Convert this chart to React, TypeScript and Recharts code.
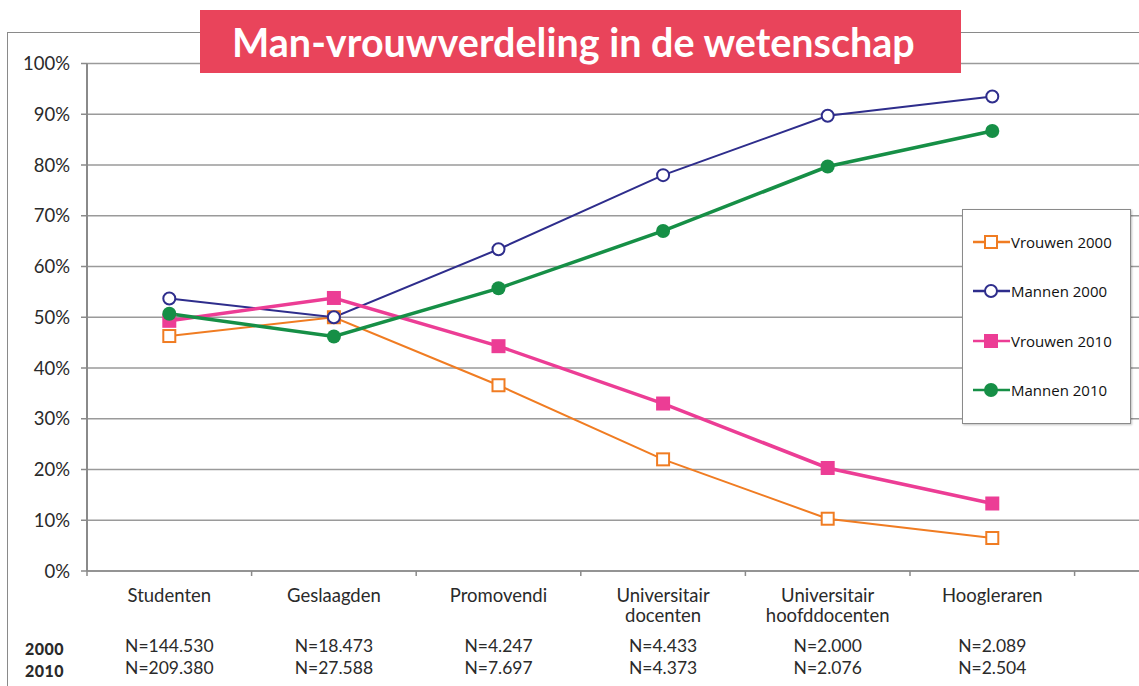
import React from 'react'
import { LineChart, Line, XAxis, YAxis, CartesianGrid } from 'recharts'

// categories (last one is an empty slot so the plot runs on to the right edge)
const categories = [
  'Studenten',
  'Geslaagden',
  'Promovendi',
  'Universitair\ndocenten',
  'Universitair\nhoofddocenten',
  'Hoogleraren',
  '',
]
const n2000 = ['N=144.530', 'N=18.473', 'N=4.247', 'N=4.433', 'N=2.000', 'N=2.089', '']
const n2010 = ['N=209.380', 'N=27.588', 'N=7.697', 'N=4.373', 'N=2.076', 'N=2.504', '']

const vrouwen2000 = [46.3, 50.0, 36.6, 22.0, 10.3, 6.5, null]
const mannen2000 = [53.7, 50.0, 63.4, 78.0, 89.7, 93.5, null]
const vrouwen2010 = [49.3, 53.8, 44.3, 33.0, 20.3, 13.3, null]
const mannen2010 = [50.7, 46.2, 55.7, 67.0, 79.7, 86.7, null]

const yTicks = [0, 10, 20, 30, 40, 50, 60, 70, 80, 90, 100]

const data = categories.map((c, i) => ({
  name: c,
  v2000: vrouwen2000[i],
  m2000: mannen2000[i],
  v2010: vrouwen2010[i],
  m2010: mannen2010[i],
}))

const BAND = 164.6
const PLOT_LEFT = 87
const CHART_W = PLOT_LEFT + BAND * categories.length + 20
const FONT = 'Lato, "Open Sans", sans-serif'

const series = [
  { key: 'v2000', name: 'Vrouwen 2000', color: '#F07C22', width: 2, marker: 'openSquare' },
  { key: 'm2000', name: 'Mannen 2000', color: '#2E2D8C', width: 2, marker: 'openCircle' },
  { key: 'v2010', name: 'Vrouwen 2010', color: '#EC3D95', width: 3.5, marker: 'square' },
  { key: 'm2010', name: 'Mannen 2010', color: '#168F46', width: 3.5, marker: 'circle' },
]

function Marker({ type, cx, cy, color }: { type: string; cx: number; cy: number; color: string }) {
  if (type === 'openSquare')
    return <rect x={cx - 6} y={cy - 6} width={12} height={12} fill="#fff" stroke={color} strokeWidth={2} />
  if (type === 'openCircle')
    return <circle cx={cx} cy={cy} r={6} fill="#fff" stroke={color} strokeWidth={2} />
  if (type === 'square') return <rect x={cx - 7} y={cy - 7} width={14} height={14} fill={color} />
  return <circle cx={cx} cy={cy} r={7} fill={color} />
}

function makeDot(s: (typeof series)[number]) {
  return (props: any) => {
    const { cx, cy, index, value } = props
    if (value == null || cy == null) return <g key={`${s.key}-${index}`} />
    return (
      <g key={`${s.key}-${index}`}>
        <Marker type={s.marker} cx={cx} cy={cy} color={s.color} />
      </g>
    )
  }
}

function CategoryTick({ x, y, payload }: any) {
  const i = payload.index
  const lines = String(payload.value).split('\n')
  return (
    <g fontFamily={FONT} fill="#2a2a2a">
      <line x1={x - BAND / 2} x2={x - BAND / 2} y1={y} y2={y + 5} stroke="#8a8a8a" strokeWidth={1.5} />
      {lines.map((l, k) => (
        <text key={k} x={x} y={y + 31 + k * 20} textAnchor="middle" fontSize={18.5}>
          {l}
        </text>
      ))}
      <text x={x} y={y + 81} textAnchor="middle" fontSize={17.5}>
        {n2000[i]}
      </text>
      <text x={x} y={y + 103} textAnchor="middle" fontSize={17.5}>
        {n2010[i]}
      </text>
    </g>
  )
}

function LegendBox() {
  return (
    <div
      style={{
        position: 'absolute',
        left: 962,
        top: 209,
        width: 169,
        height: 215,
        background: '#fff',
        border: '1.5px solid #8a8a8a',
        boxShadow: '1px 1px 2px rgba(0,0,0,0.25)',
        paddingTop: 7,
        boxSizing: 'border-box',
      }}
    >
      {series.map((s) => (
        <div key={s.key} style={{ display: 'flex', alignItems: 'center', height: 49.5 }}>
          <svg width={48} height={20}>
            <line x1={10} x2={47} y1={10} y2={10} stroke={s.color} strokeWidth={2.5} />
            <Marker type={s.marker} cx={28} cy={10} color={s.color} />
          </svg>
          <span style={{ fontFamily: '"Open Sans", sans-serif', fontSize: 15, color: '#111' }}>{s.name}</span>
        </div>
      ))}
    </div>
  )
}

export default function App() {
  return (
    <div
      style={{
        position: 'absolute',
        left: 0,
        top: 0,
        width: 1139,
        height: 686,
        overflow: 'hidden',
        background: '#fff',
      }}
    >
      <div
        style={{
          position: 'absolute',
          left: 7,
          top: 32,
          width: 1300,
          height: 800,
          borderLeft: '1.5px solid #8a8a8a',
          borderTop: '1.5px solid #8a8a8a',
        }}
      />
      <div style={{ position: 'absolute', left: 0, top: 0 }}>
        <LineChart
          width={CHART_W}
          height={686}
          data={data}
          margin={{ top: 63.5, right: 20, left: 0, bottom: 0 }}
        >
          <CartesianGrid vertical={false} stroke="#9a9a9a" strokeWidth={1.5} />
          <XAxis
            dataKey="name"
            scale="band"
            interval={0}
            height={115}
            tickSize={0}
            tickMargin={0}
            tickLine={false}
            axisLine={{ stroke: '#8a8a8a', strokeWidth: 1.5 }}
            tick={<CategoryTick />}
          />
          <YAxis
            domain={[0, 100]}
            ticks={yTicks}
            width={PLOT_LEFT}
            tickSize={6}
            tickMargin={11}
            tickFormatter={(v) => `${v}%`}
            axisLine={{ stroke: '#8a8a8a', strokeWidth: 2 }}
            tickLine={{ stroke: '#8a8a8a', strokeWidth: 1.5 }}
            tick={{ fill: '#2a2a2a', fontSize: 18.5, fontFamily: FONT }}
          />
          {series.map((s) => (
            <Line
              key={s.key}
              dataKey={s.key}
              name={s.name}
              stroke={s.color}
              strokeWidth={s.width}
              dot={makeDot(s)}
              activeDot={false}
              isAnimationActive={false}
            />
          ))}
        </LineChart>
      </div>
      <LegendBox />
      <div
        style={{
          position: 'absolute',
          left: 200,
          top: 10,
          width: 761,
          height: 63,
          background: '#E9445B',
          color: '#fff',
          fontFamily: FONT,
          fontWeight: 700,
          fontSize: 39.5,
          lineHeight: '63px',
          paddingLeft: 32,
          boxSizing: 'border-box',
          whiteSpace: 'nowrap',
        }}
      >
        Man-vrouwverdeling in de wetenschap
      </div>
      <div
        style={{
          position: 'absolute',
          left: 25,
          top: 638,
          fontFamily: FONT,
          fontWeight: 900,
          fontSize: 16,
          letterSpacing: 0.5,
          color: '#2a2a2a',
          lineHeight: '22px',
        }}
      >
        <div>2000</div>
        <div>2010</div>
      </div>
    </div>
  )
}
